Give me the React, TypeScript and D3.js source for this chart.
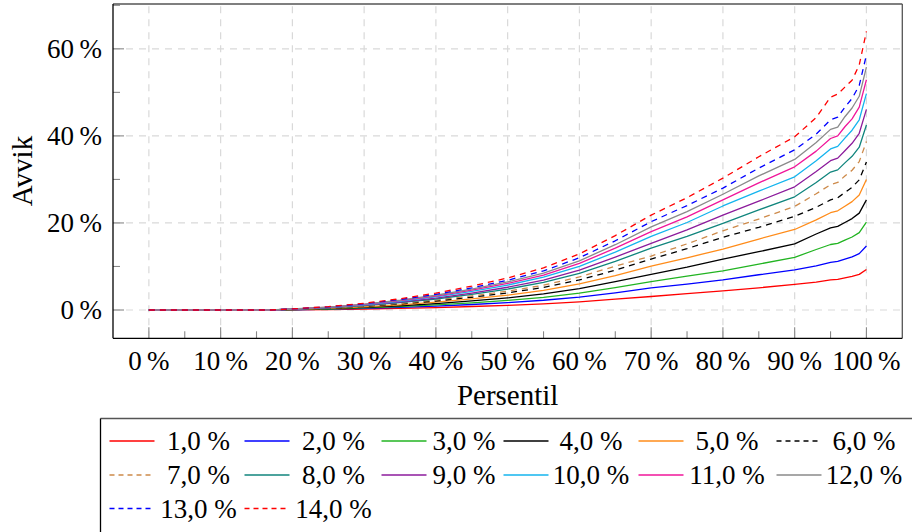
import React from 'react';
import * as d3 from 'd3';

const percentiles = [0, 5, 10, 15, 17, 20, 25, 30, 35, 40, 45, 50, 55, 60, 65, 70, 75, 80, 85, 90, 93, 95, 96, 97, 98, 99, 100];

const s1 = [0, 0, 0, 0, 0, 0.04, 0.11, 0.23, 0.38, 0.56, 0.8, 1.07, 1.41, 1.88, 2.49, 3.1, 3.76, 4.4, 5.1, 5.9, 6.42, 6.93, 7.05, 7.39, 7.72, 8.18, 9.3];
const s2 = [0, 0, 0, 0, 0, 0.06, 0.18, 0.36, 0.6, 0.89, 1.27, 1.7, 2.24, 2.98, 3.95, 5.1, 5.96, 6.9, 8.1, 9.2, 10.14, 10.95, 11.15, 11.69, 12.2, 12.94, 14.7];
const s3 = [0, 0, 0, 0, 0, 0.08, 0.23, 0.47, 0.78, 1.16, 1.65, 2.21, 2.91, 3.88, 5.14, 6.5, 7.76, 9.0, 10.55, 12.1, 13.9, 15.05, 15.3, 16.06, 16.77, 17.78, 20.2];
const s4 = [0, 0, 0, 0, 0, 0.1, 0.3, 0.59, 0.98, 1.48, 2.09, 2.8, 3.69, 4.92, 6.52, 8.2, 9.84, 11.7, 13.4, 15.2, 17.46, 18.85, 19.2, 20.11, 21.0, 22.26, 25.3];
const s5 = [0, 0, 0, 0, 0, 0.12, 0.36, 0.72, 1.2, 1.79, 2.54, 3.41, 4.49, 5.98, 7.92, 10.1, 12.0, 14.0, 16.3, 18.5, 20.7, 22.35, 22.8, 23.85, 24.9, 26.4, 30.0];
const s6 = [0, 0, 0, 0, 0, 0.14, 0.41, 0.83, 1.38, 2.07, 2.93, 3.93, 5.18, 6.9, 9.14, 11.7, 14.1, 16.7, 19.0, 21.5, 23.6, 25.3, 25.8, 27.0, 28.2, 29.9, 34.0];
const s7 = [0, 0, 0, 0, 0, 0.15, 0.46, 0.91, 1.52, 2.28, 3.23, 4.33, 5.7, 7.6, 10.07, 12.4, 15.2, 18.2, 20.9, 23.8, 26.7, 28.8, 29.3, 30.8, 32.1, 34.1, 38.7];
const s8 = [0, 0, 0, 0, 0, 0.17, 0.51, 1.01, 1.69, 2.53, 3.59, 4.81, 6.33, 8.44, 11.18, 14.2, 16.9, 19.9, 23.0, 26.0, 29.3, 31.7, 32.2, 33.8, 35.3, 37.4, 42.5];
const s9 = [0, 0, 0, 0, 0, 0.18, 0.55, 1.1, 1.84, 2.75, 3.9, 5.23, 6.89, 9.18, 12.16, 15.3, 18.4, 21.8, 25.0, 28.3, 31.8, 34.3, 34.9, 36.6, 38.3, 40.6, 46.1];
const s10 = [0, 0, 0, 0, 0, 0.2, 0.6, 1.2, 2.01, 3.01, 4.27, 5.72, 7.53, 10.04, 13.3, 16.9, 20.1, 23.9, 27.3, 30.6, 34.3, 37.0, 37.6, 39.5, 41.3, 43.7, 49.7];
const s11 = [0, 0, 0, 0, 0, 0.21, 0.64, 1.28, 2.14, 3.21, 4.55, 6.1, 8.03, 10.7, 14.2, 18.0, 21.4, 25.3, 29.2, 32.9, 36.5, 39.4, 40.0, 42.1, 43.9, 46.6, 52.9];
const s12 = [0, 0, 0, 0, 0, 0.23, 0.68, 1.36, 2.26, 3.39, 4.8, 6.44, 8.48, 11.3, 15.0, 19.1, 22.6, 26.6, 30.8, 34.6, 38.5, 41.5, 42.0, 44.4, 46.4, 49.1, 55.8];
const s13 = [0, 0, 0, 0, 0, 0.24, 0.72, 1.44, 2.4, 3.59, 5.09, 6.83, 8.99, 12.0, 15.9, 20.3, 24.0, 28.0, 32.6, 36.8, 40.4, 43.7, 44.3, 46.6, 48.6, 51.6, 58.6];
const s14 = [0, 0, 0, 0, 0, 0.26, 0.78, 1.55, 2.58, 3.88, 5.49, 7.36, 9.69, 12.9, 17.1, 21.8, 25.8, 30.3, 35.2, 39.8, 44.2, 48.9, 49.6, 51.2, 52.8, 56.3, 64.0];

const seriesValues = [s1, s2, s3, s4, s5, s6, s7, s8, s9, s10, s11, s12, s13, s14];
const seriesLabels = ['1,0 %', '2,0 %', '3,0 %', '4,0 %', '5,0 %', '6,0 %', '7,0 %', '8,0 %', '9,0 %', '10,0 %', '11,0 %', '12,0 %', '13,0 %', '14,0 %'];
const seriesColors = ['#ff0000', '#0000ff', '#22b422', '#000000', '#ff8c1a', '#000000', '#cd8a4a', '#10857d', '#8c1b9c', '#14b4ee', '#f0169a', '#8a8a8a', '#0000ff', '#ff0000'];
const seriesDashed = [false, false, false, false, false, true, true, false, false, false, false, false, true, true];

const xTicks = [0, 10, 20, 30, 40, 50, 60, 70, 80, 90, 100];
const xMinorTicks = [5, 15, 25, 35, 45, 55, 65, 75, 85, 95];
const yTicks = [0, 20, 40, 60];
const yMinorTicks = [10, 30, 50, 70];

const FONT = '"Liberation Serif", "Times New Roman", serif';

export default function App() {
  const W = 912, H = 532;
  const left = 113, right = 902.3, top = 4, bottom = 338.3;
  const x = d3.scaleLinear().domain([-5, 105]).range([left, right]);
  const y = d3.scaleLinear().domain([-6.5, 70.3]).range([bottom, top]);
  const line = d3.line<number>().x((_, i) => x(percentiles[i])).y((d) => y(d));

  const legendLineCenters = [132, 267, 404, 526, 661, 799];
  const legendTextCenters = [198.5, 333.5, 464, 591, 727, 864];
  const legendRows = [441, 475, 508.5];

  return (
    <svg width={W} height={H} style={{ position: 'absolute', left: 0, top: 0, background: '#fff' }} fontFamily={FONT}>
      <defs>
        <clipPath id="plotclip">
          <rect x={left} y={top} width={right - left} height={bottom - top} />
        </clipPath>
      </defs>
      <rect x={0} y={0} width={W} height={H} fill="#fff" />
      {/* grid */}
      {xTicks.map((t) => (
        <line key={'gx' + t} x1={x(t)} x2={x(t)} y1={bottom} y2={top} stroke="#d9d9d9" strokeWidth={1.2} strokeDasharray="7 6" />
      ))}
      {yTicks.map((t) => (
        <line key={'gy' + t} x1={left} x2={right} y1={y(t)} y2={y(t)} stroke="#d9d9d9" strokeWidth={1.2} strokeDasharray="7 6" />
      ))}
      {/* ticks */}
      {xTicks.map((t) => (
        <line key={'tx' + t} x1={x(t)} x2={x(t)} y1={bottom} y2={bottom - 11} stroke="#888" strokeWidth={1.1} />
      ))}
      {xMinorTicks.map((t) => (
        <line key={'mx' + t} x1={x(t)} x2={x(t)} y1={bottom} y2={bottom - 7} stroke="#888" strokeWidth={1.1} />
      ))}
      {yTicks.map((t) => (
        <line key={'ty' + t} x1={left} x2={left + 11} y1={y(t)} y2={y(t)} stroke="#888" strokeWidth={1.1} />
      ))}
      {yMinorTicks.map((t) => (
        <line key={'my' + t} x1={left} x2={left + 7} y1={y(t)} y2={y(t)} stroke="#888" strokeWidth={1.1} />
      ))}
      {/* series */}
      <g clipPath="url(#plotclip)">
        {seriesValues.map((vals, i) => (
          <path
            key={'s' + i}
            d={line(vals) || ''}
            fill="none"
            stroke={seriesColors[i]}
            strokeWidth={1.3}
            strokeDasharray={seriesDashed[i] ? '6 5' : undefined}
            strokeLinejoin="round"
          />
        ))}
      </g>
      {/* frame */}
      <line x1={left} x2={right} y1={top} y2={top} stroke="#555" strokeWidth={1.3} />
      <line x1={right} x2={right} y1={top} y2={bottom} stroke="#555" strokeWidth={1.3} />
      <line x1={left} x2={left} y1={top} y2={bottom} stroke="#000" strokeWidth={1.3} />
      <line x1={left} x2={right} y1={bottom} y2={bottom} stroke="#000" strokeWidth={1.3} />
      {/* tick labels */}
      {xTicks.map((t) => (
        <text key={'lx' + t} x={x(t)} y={370} textAnchor="middle" fontSize={27} fill="#000">
          {t + '\u2009%'}
        </text>
      ))}
      {yTicks.map((t) => (
        <text key={'ly' + t} x={102} y={y(t) + 9} textAnchor="end" fontSize={27} fill="#000">
          {t + '\u2009%'}
        </text>
      ))}
      {/* axis labels */}
      <text x={(x(0) + x(100)) / 2} y={405} textAnchor="middle" fontSize={29} fill="#000">Persentil</text>
      <text transform={`translate(32,171) rotate(-90)`} textAnchor="middle" fontSize={29} fill="#000">Avvik</text>
      {/* legend */}
      <line x1={100.5} x2={W + 2} y1={418.5} y2={418.5} stroke="#555" strokeWidth={1.3} />
      <line x1={100.5} x2={100.5} y1={418.5} y2={H + 2} stroke="#000" strokeWidth={1.3} />
      {seriesLabels.map((lab, i) => {
        const col = i % 6;
        const row = Math.floor(i / 6);
        const cy = legendRows[row];
        const lc = legendLineCenters[col];
        return (
          <g key={'lg' + i}>
            <path
              d={`M${lc - 22.5},${cy}H${lc + 22.5}`}
              fill="none"
              stroke={seriesColors[i]}
              strokeWidth={1.4}
              strokeDasharray={seriesDashed[i] ? '5 4' : undefined}
            />
            <text x={legendTextCenters[col]} y={cy + 9} textAnchor="middle" fontSize={27} fill="#000">
              {lab}
            </text>
          </g>
        );
      })}
    </svg>
  );
}
